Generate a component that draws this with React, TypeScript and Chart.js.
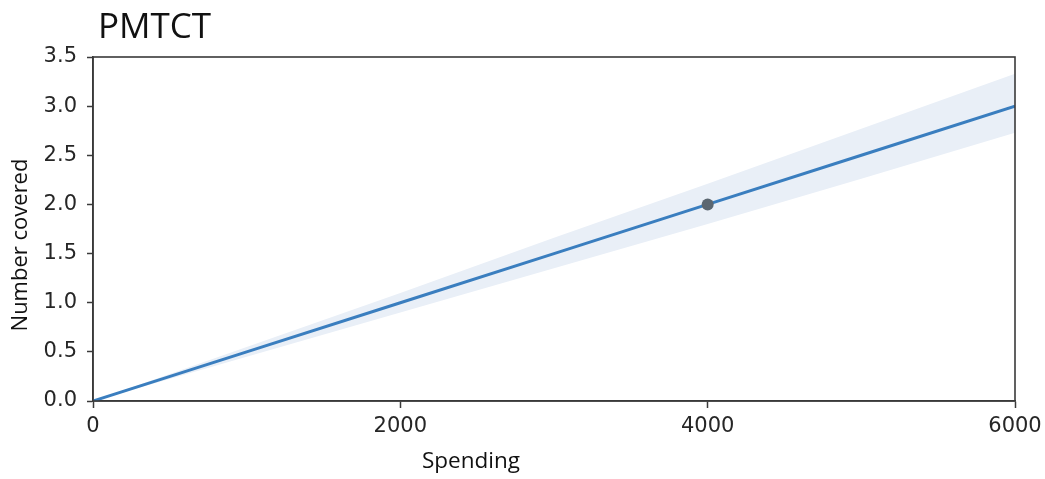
import React, { useEffect, useRef } from "react";
import { Chart, registerables } from "chart.js";

Chart.register(...registerables);

const chartTitle = "PMTCT";
const xAxisTitle = "Spending";
const yAxisTitle = "Number covered";

const spending = [0, 1000, 2000, 3000, 4000, 5000, 6000];
const covered = [0, 0.5, 1.0, 1.5, 2.0, 2.5, 3.0];
const upperBand = [0, 0.55, 1.1, 1.66, 2.21, 2.77, 3.33];
const lowerBand = [0, 0.45, 0.9, 1.35, 1.8, 2.26, 2.73];
const observedX = [4000];
const observedY = [2.0];

const xTicks = [0, 2000, 4000, 6000];
const yTicks = [0, 0.5, 1.0, 1.5, 2.0, 2.5, 3.0, 3.5];

const W = 1045;
const H = 479;

const frameAndText = {
  id: "frameAndText",
  afterDraw(chart: any) {
    const { ctx, chartArea } = chart;
    ctx.save();
    ctx.strokeStyle = "#3a3a3a";
    ctx.lineWidth = 1.6;
    ctx.strokeRect(
      chartArea.left,
      chartArea.top,
      chartArea.right - chartArea.left,
      chartArea.bottom - chartArea.top
    );
    ctx.fillStyle = "#111";
    ctx.font = '35px "Open Sans"';
    ctx.textAlign = "left";
    ctx.textBaseline = "alphabetic";
    ctx.fillText(chartTitle, 98, 38);

    ctx.font = '22.5px "Open Sans"';
    ctx.textAlign = "center";
    ctx.fillText(xAxisTitle, 471, 468);

    ctx.font = '22px "Open Sans"';
    ctx.translate(27, 245);
    ctx.rotate(-Math.PI / 2);
    ctx.fillText(yAxisTitle, 0, 0);
    ctx.restore();
  },
};

export default function App() {
  const ref = useRef<HTMLCanvasElement | null>(null);

  useEffect(() => {
    if (!ref.current) return;
    const line = spending.map((x, i) => ({ x, y: covered[i] }));
    const up = spending.map((x, i) => ({ x, y: upperBand[i] }));
    const lo = spending.map((x, i) => ({ x, y: lowerBand[i] }));
    const obs = observedX.map((x, i) => ({ x, y: observedY[i] }));

    const chart = new Chart(ref.current, {
      type: "line",
      data: {
        datasets: [
          {
            label: "observed",
            data: obs,
            showLine: false,
            pointRadius: 6,
            pointBackgroundColor: "#5b6670",
            pointBorderColor: "#5b6670",
            pointBorderWidth: 0,
          },
          {
            label: "fit",
            data: line,
            borderColor: "#3a7ebf",
            borderWidth: 3,
            pointRadius: 0,
            fill: false,
          },
          {
            label: "upper",
            data: up,
            borderWidth: 0,
            borderColor: "rgba(0,0,0,0)",
            backgroundColor: "#e9eff7",
            pointRadius: 0,
            fill: "+1",
          },
          {
            label: "lower",
            data: lo,
            borderWidth: 0,
            borderColor: "rgba(0,0,0,0)",
            pointRadius: 0,
            fill: false,
          },
        ],
      },
      options: {
        responsive: false,
        animation: false,
        layout: { padding: { top: 57, right: 30, left: 0, bottom: 0 } },
        plugins: {
          legend: { display: false },
          tooltip: { enabled: false },
          title: { display: false },
        },
        scales: {
          x: {
            type: "linear",
            min: 0,
            max: 6000,
            afterBuildTicks(scale: any) {
              scale.ticks = xTicks.map((v) => ({ value: v }));
            },
            afterFit(scale: any) {
              scale.height = 78;
              scale.paddingLeft = 0;
              scale.paddingRight = 0;
            },
            grid: {
              display: true,
              drawOnChartArea: false,
              drawTicks: true,
              tickLength: 7,
              tickWidth: 1.5,
              tickColor: "#3a3a3a",
            },
            border: { display: true, color: "#3a3a3a", width: 1.6 },
            ticks: {
              color: "#262626",
              font: { family: "DejaVu Sans", size: 21 },
              padding: 6,
              maxRotation: 0,
              callback: (v: any) => String(v),
            },
          },
          y: {
            type: "linear",
            min: 0,
            max: 3.5,
            afterBuildTicks(scale: any) {
              scale.ticks = yTicks.map((v) => ({ value: v }));
            },
            afterFit(scale: any) {
              scale.width = 93;
              scale.paddingTop = 0;
              scale.paddingBottom = 0;
            },
            grid: {
              display: true,
              drawOnChartArea: false,
              drawTicks: true,
              tickLength: 6,
              tickWidth: 1.5,
              tickColor: "#3a3a3a",
            },
            border: { display: true, color: "#3a3a3a", width: 1.6 },
            ticks: {
              color: "#262626",
              font: { family: "DejaVu Sans", size: 21 },
              padding: 10,
              callback: (v: any) => Number(v).toFixed(1),
            },
          },
        },
      },
      plugins: [frameAndText],
    });
    return () => chart.destroy();
  }, []);

  return (
    <div style={{ position: "absolute", left: 0, top: 0, width: W, height: H, background: "#fff" }}>
      <canvas ref={ref} width={W} height={H} style={{ display: "block" }} />
    </div>
  );
}
